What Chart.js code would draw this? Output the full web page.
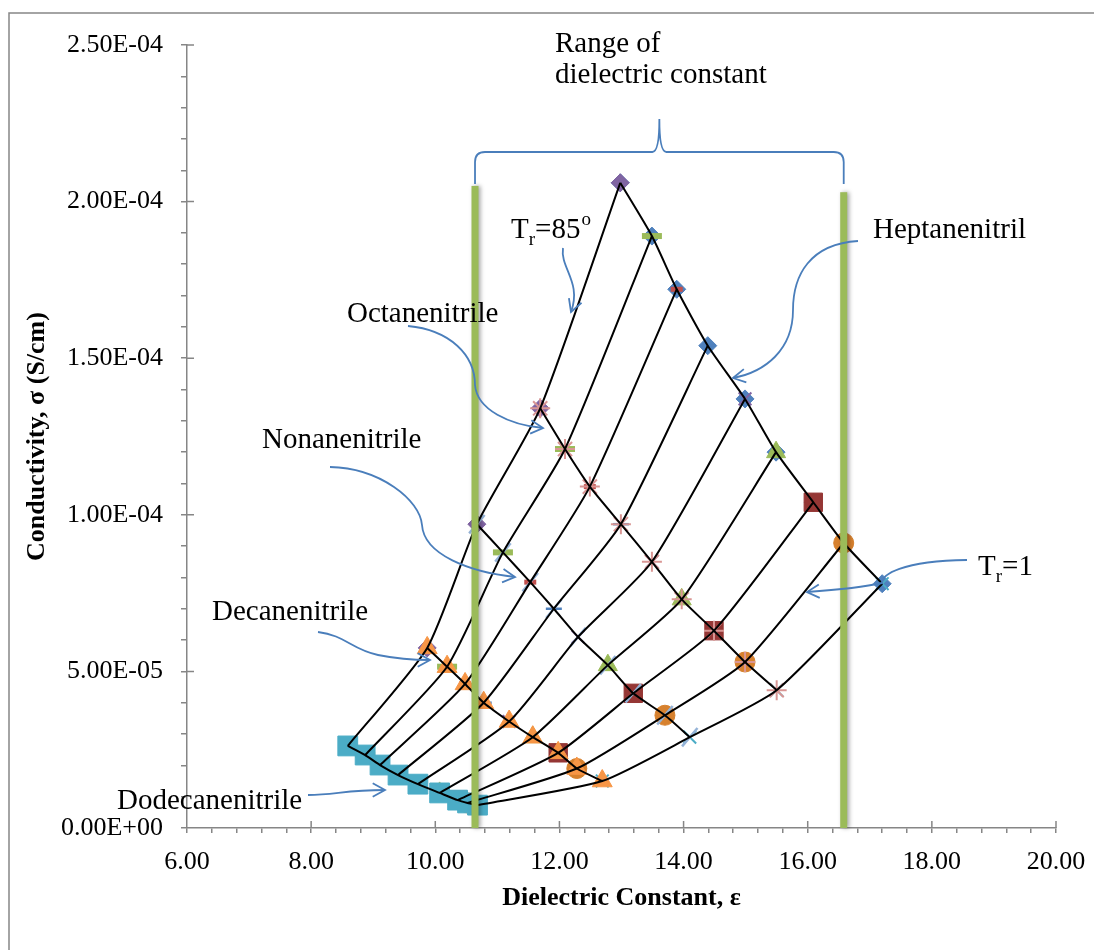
<!DOCTYPE html>
<html>
<head>
<meta charset="utf-8">
<script src="https://cdn.jsdelivr.net/npm/chart.js@4.4.1/dist/chart.umd.min.js"></script>
<style>
  body { margin: 0; background: #fff; }
  #wrap { position: relative; width: 1094px; height: 950px; }
</style>
</head>
<body>
<div id="wrap"><canvas id="condChart"></canvas></div>
<script>
// dielectric constant (x) and conductivity in S/cm (y), one point per reduced temperature,
// from Tr=85° (first) down to Tr=1 (last)
const heptaneEps   = [12.98, 13.49, 13.89, 14.39, 14.99, 15.49, 16.09, 16.58, 17.20];
const heptaneSigma = [2.06e-4, 1.89e-4, 1.72e-4, 1.54e-4, 1.37e-4, 1.20e-4, 1.04e-4, 9.1e-5, 7.8e-5];
const octaneEps    = [11.69, 12.09, 12.49, 12.99, 13.49, 13.97, 14.49, 14.99, 15.50];
const octaneSigma  = [1.34e-4, 1.21e-4, 1.09e-4, 9.7e-5, 8.5e-5, 7.3e-5, 6.3e-5, 5.3e-5, 4.4e-5];
const nonaneEps    = [10.67, 11.09, 11.53, 11.91, 12.30, 12.78, 13.19, 13.70, 14.10];
const nonaneSigma  = [9.7e-5, 8.8e-5, 7.85e-5, 7.0e-5, 6.1e-5, 5.2e-5, 4.3e-5, 3.6e-5, 2.9e-5];
const decaneEps    = [9.87, 10.19, 10.48, 10.78, 11.19, 11.57, 11.98, 12.28, 12.69];
const decaneSigma  = [5.75e-5, 5.15e-5, 4.6e-5, 4.0e-5, 3.4e-5, 2.9e-5, 2.4e-5, 1.9e-5, 1.5e-5];
const dodecaneEps  = [8.59, 8.87, 9.11, 9.40, 9.72, 10.07, 10.36, 10.52, 10.68];
const dodecaneSigma= [2.62e-5, 2.33e-5, 2.01e-5, 1.69e-5, 1.40e-5, 1.12e-5, 8.9e-6, 8.0e-6, 7.3e-6];

const nitrileNames = ["Heptanenitril", "Octanenitrile", "Nonanenitrile", "Decanenitrile", "Dodecanenitrile"];
const rangeEps = [10.64, 16.58];           // range of dielectric constant (green bars)
const rangeTop = [2.05e-4, 2.03e-4];

const FONT = '"Liberation Serif", "Times New Roman", serif';
const GRAY = "#868686";
const ARROW = "#4A7EBB";

// marker look per nitrile series
const nitrileStyles = [
  { style: "rectRot", r: 9, color: "#4F81BD", w: 1, order: 20 },
  { style: "star", r: 10, color: "#D99694", w: 2, order: 4 },
  { style: "line", r: 12, color: "#95B3D7", w: 2.5, rot: -50, order: 3 },
  { style: "triangle", r: 11.5, color: "#F79646", w: 1, order: 2 },
  { style: "rect", r: 14, color: "#4BACC6", w: 1, order: 1 }
];
// marker look per reduced-temperature series
const trStyles = [
  { style: "rectRot", r: 9, color: "#8064A2", w: 1 },
  { style: "line", r: 10, color: "#9BBB59", w: 6 },
  { style: "line", r: 6, color: "#C0504D", w: 5 },
  { style: "line", r: 8, color: "#4F81BD", w: 2.5 },
  { style: "crossRot", r: 9, color: "#8064A2", w: 2 },
  { style: "triangle", r: 11, color: "#9BBB59", w: 1 },
  { style: "rect", r: 13, color: "#953735", w: 1 },
  { style: "circle", r: 10, color: "#D7812E", w: 1 },
  { style: "crossRot", r: 9, color: "#4BACC6", w: 2 }
];

const nitriles = [
  [heptaneEps, heptaneSigma],
  [octaneEps, octaneSigma],
  [nonaneEps, nonaneSigma],
  [decaneEps, decaneSigma],
  [dodecaneEps, dodecaneSigma]
];

const datasets = [];
const lineStyle = { showLine: true, borderColor: "#000", borderWidth: 2, pointRadius: 0,
                    pointHoverRadius: 0, tension: 0.2, order: 0 };

nitriles.forEach(([xs, ys], i) => {
  const pts = xs.map((x, j) => ({ x: x, y: ys[j] }));
  const s = nitrileStyles[i];
  datasets.push(Object.assign({ label: nitrileNames[i] + " fit", data: pts }, lineStyle));
  datasets.push({
    label: nitrileNames[i], data: pts, showLine: false,
    pointStyle: s.style, pointRadius: s.r, pointRotation: s.rot || 0,
    backgroundColor: s.color, borderColor: s.color, borderWidth: s.w, pointBorderWidth: s.w,
    order: s.order
  });
});

// isotherms: same Tr index across the nitriles, low to high epsilon
trStyles.forEach((s, k) => {
  const pts = nitriles.slice().reverse().map(([xs, ys]) => ({ x: xs[k], y: ys[k] }));
  datasets.push(Object.assign({ label: "Tr " + (k + 1) + " fit", data: pts }, lineStyle));
  datasets.push({
    label: "Tr " + (k + 1), data: pts, showLine: false,
    pointStyle: s.style, pointRadius: s.r,
    backgroundColor: s.color, borderColor: s.color, borderWidth: s.w, pointBorderWidth: s.w,
    order: 5 + k
  });
});

function sciLabel(v) {
  const n = Math.round(v / 1e-5);
  if (n % 5 !== 0) return "";
  if (n === 0) return "0.00E+00";
  const parts = Number((n * 1e-5).toPrecision(6)).toExponential(2).split("e");
  const e = parseInt(parts[1], 10);
  return parts[0] + "E" + (e < 0 ? "-" : "+") + String(Math.abs(e)).padStart(2, "0");
}

function drawArrow(c, p) {
  c.beginPath();
  c.moveTo(p[0], p[1]);
  for (let i = 2; i < p.length; i += 6) {
    c.bezierCurveTo(p[i], p[i + 1], p[i + 2], p[i + 3], p[i + 4], p[i + 5]);
  }
  c.stroke();
  const n = p.length;
  const ex = p[n - 2], ey = p[n - 1];
  const ang = Math.atan2(ey - p[n - 3], ex - p[n - 4]);
  const L = 14, a = 0.5;
  c.beginPath();
  c.moveTo(ex - L * Math.cos(ang - a), ey - L * Math.sin(ang - a));
  c.lineTo(ex, ey);
  c.lineTo(ex - L * Math.cos(ang + a), ey - L * Math.sin(ang + a));
  c.stroke();
}

// T with subscript r, then rest, optional superscript
function drawTr(c, x, y, rest, sup) {
  c.font = "29px " + FONT;
  c.fillText("T", x, y);
  x += c.measureText("T").width;
  c.font = "19px " + FONT;
  c.fillText("r", x, y + 7);
  x += c.measureText("r").width;
  c.font = "29px " + FONT;
  c.fillText(rest, x, y);
  x += c.measureText(rest).width;
  if (sup) {
    c.font = "19px " + FONT;
    c.fillText(sup, x + 1, y - 13);
  }
}

const decor = {
  id: "decor",
  beforeDraw(chart) {
    const c = chart.ctx;
    c.save();
    c.fillStyle = "#fff";
    c.fillRect(0, 0, chart.width, chart.height);
    c.strokeStyle = GRAY;
    c.lineWidth = 1.5;
    c.beginPath();
    c.moveTo(9, chart.height);
    c.lineTo(9, 13);
    c.lineTo(chart.width, 13);
    c.stroke();
    c.restore();
  },
  afterDraw(chart) {
    const c = chart.ctx;
    const xs = chart.scales.x, ys = chart.scales.y;
    const area = chart.chartArea;
    c.save();

    // inner half of the major ticks
    c.strokeStyle = GRAY;
    c.lineWidth = 1.5;
    c.beginPath();
    for (let v = 8; v <= 20; v += 2) {
      const px = xs.getPixelForValue(v);
      c.moveTo(px, area.bottom);
      c.lineTo(px, area.bottom - 7);
    }
    for (let n = 5; n <= 25; n += 5) {
      const py = ys.getPixelForValue(n * 1e-5);
      c.moveTo(area.left, py);
      c.lineTo(area.left + 7, py);
    }
    c.stroke();

    // green range bars
    const xl = xs.getPixelForValue(rangeEps[0]);
    const xr = xs.getPixelForValue(rangeEps[1]);
    c.save();
    c.shadowColor = "rgba(0,0,0,0.35)";
    c.shadowBlur = 4;
    c.shadowOffsetX = 2;
    c.fillStyle = "#9BBB59";
    rangeEps.forEach((e, i) => {
      const px = xs.getPixelForValue(e);
      const top = ys.getPixelForValue(rangeTop[i]);
      c.fillRect(px - 3.5, top, 7, area.bottom - top);
    });
    c.restore();

    // brace
    const mid = (xl + xr) / 2;
    const by = 152, bEnd = 184, peak = 119;
    c.strokeStyle = ARROW;
    c.lineWidth = 1.8;
    c.beginPath();
    c.moveTo(xl, bEnd);
    c.lineTo(xl, by + 10);
    c.quadraticCurveTo(xl, by, xl + 10, by);
    c.lineTo(mid - 7, by);
    c.quadraticCurveTo(mid, by, mid, peak);
    c.quadraticCurveTo(mid, by, mid + 7, by);
    c.lineTo(xr - 10, by);
    c.quadraticCurveTo(xr, by, xr, by + 10);
    c.lineTo(xr, bEnd);
    c.stroke();

    // arrows
    [
      [563, 248, 560, 268, 582, 282, 571, 312],
      [858, 241, 810, 244, 793, 275, 793, 310, 793, 350, 765, 372, 733, 378],
      [408, 326, 450, 330, 475, 355, 475, 385, 477, 410, 510, 425, 543, 428],
      [330, 467, 380, 468, 420, 500, 422, 525, 424, 555, 470, 572, 515, 577],
      [318, 632, 345, 635, 352, 650, 378, 655, 398, 659, 415, 660, 430, 660],
      [308, 795, 335, 795, 345, 790, 385, 790],
      [967, 560, 900, 561, 882, 575, 882, 583, 860, 588, 835, 590, 807, 592]
    ].forEach(p => drawArrow(c, p));

    // texts
    c.fillStyle = "#000";
    c.textBaseline = "alphabetic";
    c.textAlign = "left";
    c.font = "29px " + FONT;
    c.fillText("Range of", 555, 52);
    c.fillText("dielectric constant", 555, 83);
    c.fillText("Heptanenitril", 873, 238);
    c.fillText("Octanenitrile", 347, 322);
    c.fillText("Nonanenitrile", 262, 448);
    c.fillText("Decanenitrile", 212, 620);
    c.fillText("Dodecanenitrile", 117, 809);
    drawTr(c, 511, 238, "=85", "o");
    drawTr(c, 978, 575, "=1", "");
    c.restore();
  }
};

new Chart(document.getElementById("condChart"), {
  type: "scatter",
  data: { datasets: datasets },
  plugins: [decor],
  options: {
    responsive: true,
    maintainAspectRatio: false,
    animation: false,
    layout: { padding: { left: 0, top: 45, right: 38, bottom: 0 } },
    plugins: { legend: { display: false }, tooltip: { enabled: false } },
    scales: {
      x: {
        type: "linear", min: 6, max: 20,
        afterFit: s => { s.height = 122; s.paddingLeft = 0; s.paddingRight = 0; },
        border: { color: GRAY, width: 1.5 },
        grid: { drawOnChartArea: false, drawTicks: true, tickLength: 5, color: GRAY, lineWidth: 1.5 },
        ticks: {
          stepSize: 0.4, autoSkip: false, maxRotation: 0, padding: 14, color: "#000",
          font: { family: FONT, size: 26 },
          callback: v => Math.abs(v / 2 - Math.round(v / 2)) < 1e-6 ? v.toFixed(2) : ""
        },
        title: {
          display: true, text: "Dielectric Constant, ε", color: "#000",
          font: { family: FONT, size: 26, weight: "bold" }, padding: { bottom: 36 }
        }
      },
      y: {
        type: "linear", min: 0, max: 2.5e-4,
        afterFit: s => { s.width = 187; s.paddingTop = 0; s.paddingBottom = 0; },
        border: { color: GRAY, width: 1.5 },
        grid: { drawOnChartArea: false, drawTicks: true, tickLength: 6, color: GRAY, lineWidth: 1.5 },
        ticks: {
          stepSize: 1e-5, autoSkip: false, padding: 18, color: "#000",
          font: { family: FONT, size: 26 },
          callback: sciLabel
        },
        title: {
          display: true, text: "Conductivity, σ (S/cm)", color: "#000",
          font: { family: FONT, size: 26, weight: "bold" }, padding: { top: 22 }
        }
      }
    }
  }
});
</script>
</body>
</html>
